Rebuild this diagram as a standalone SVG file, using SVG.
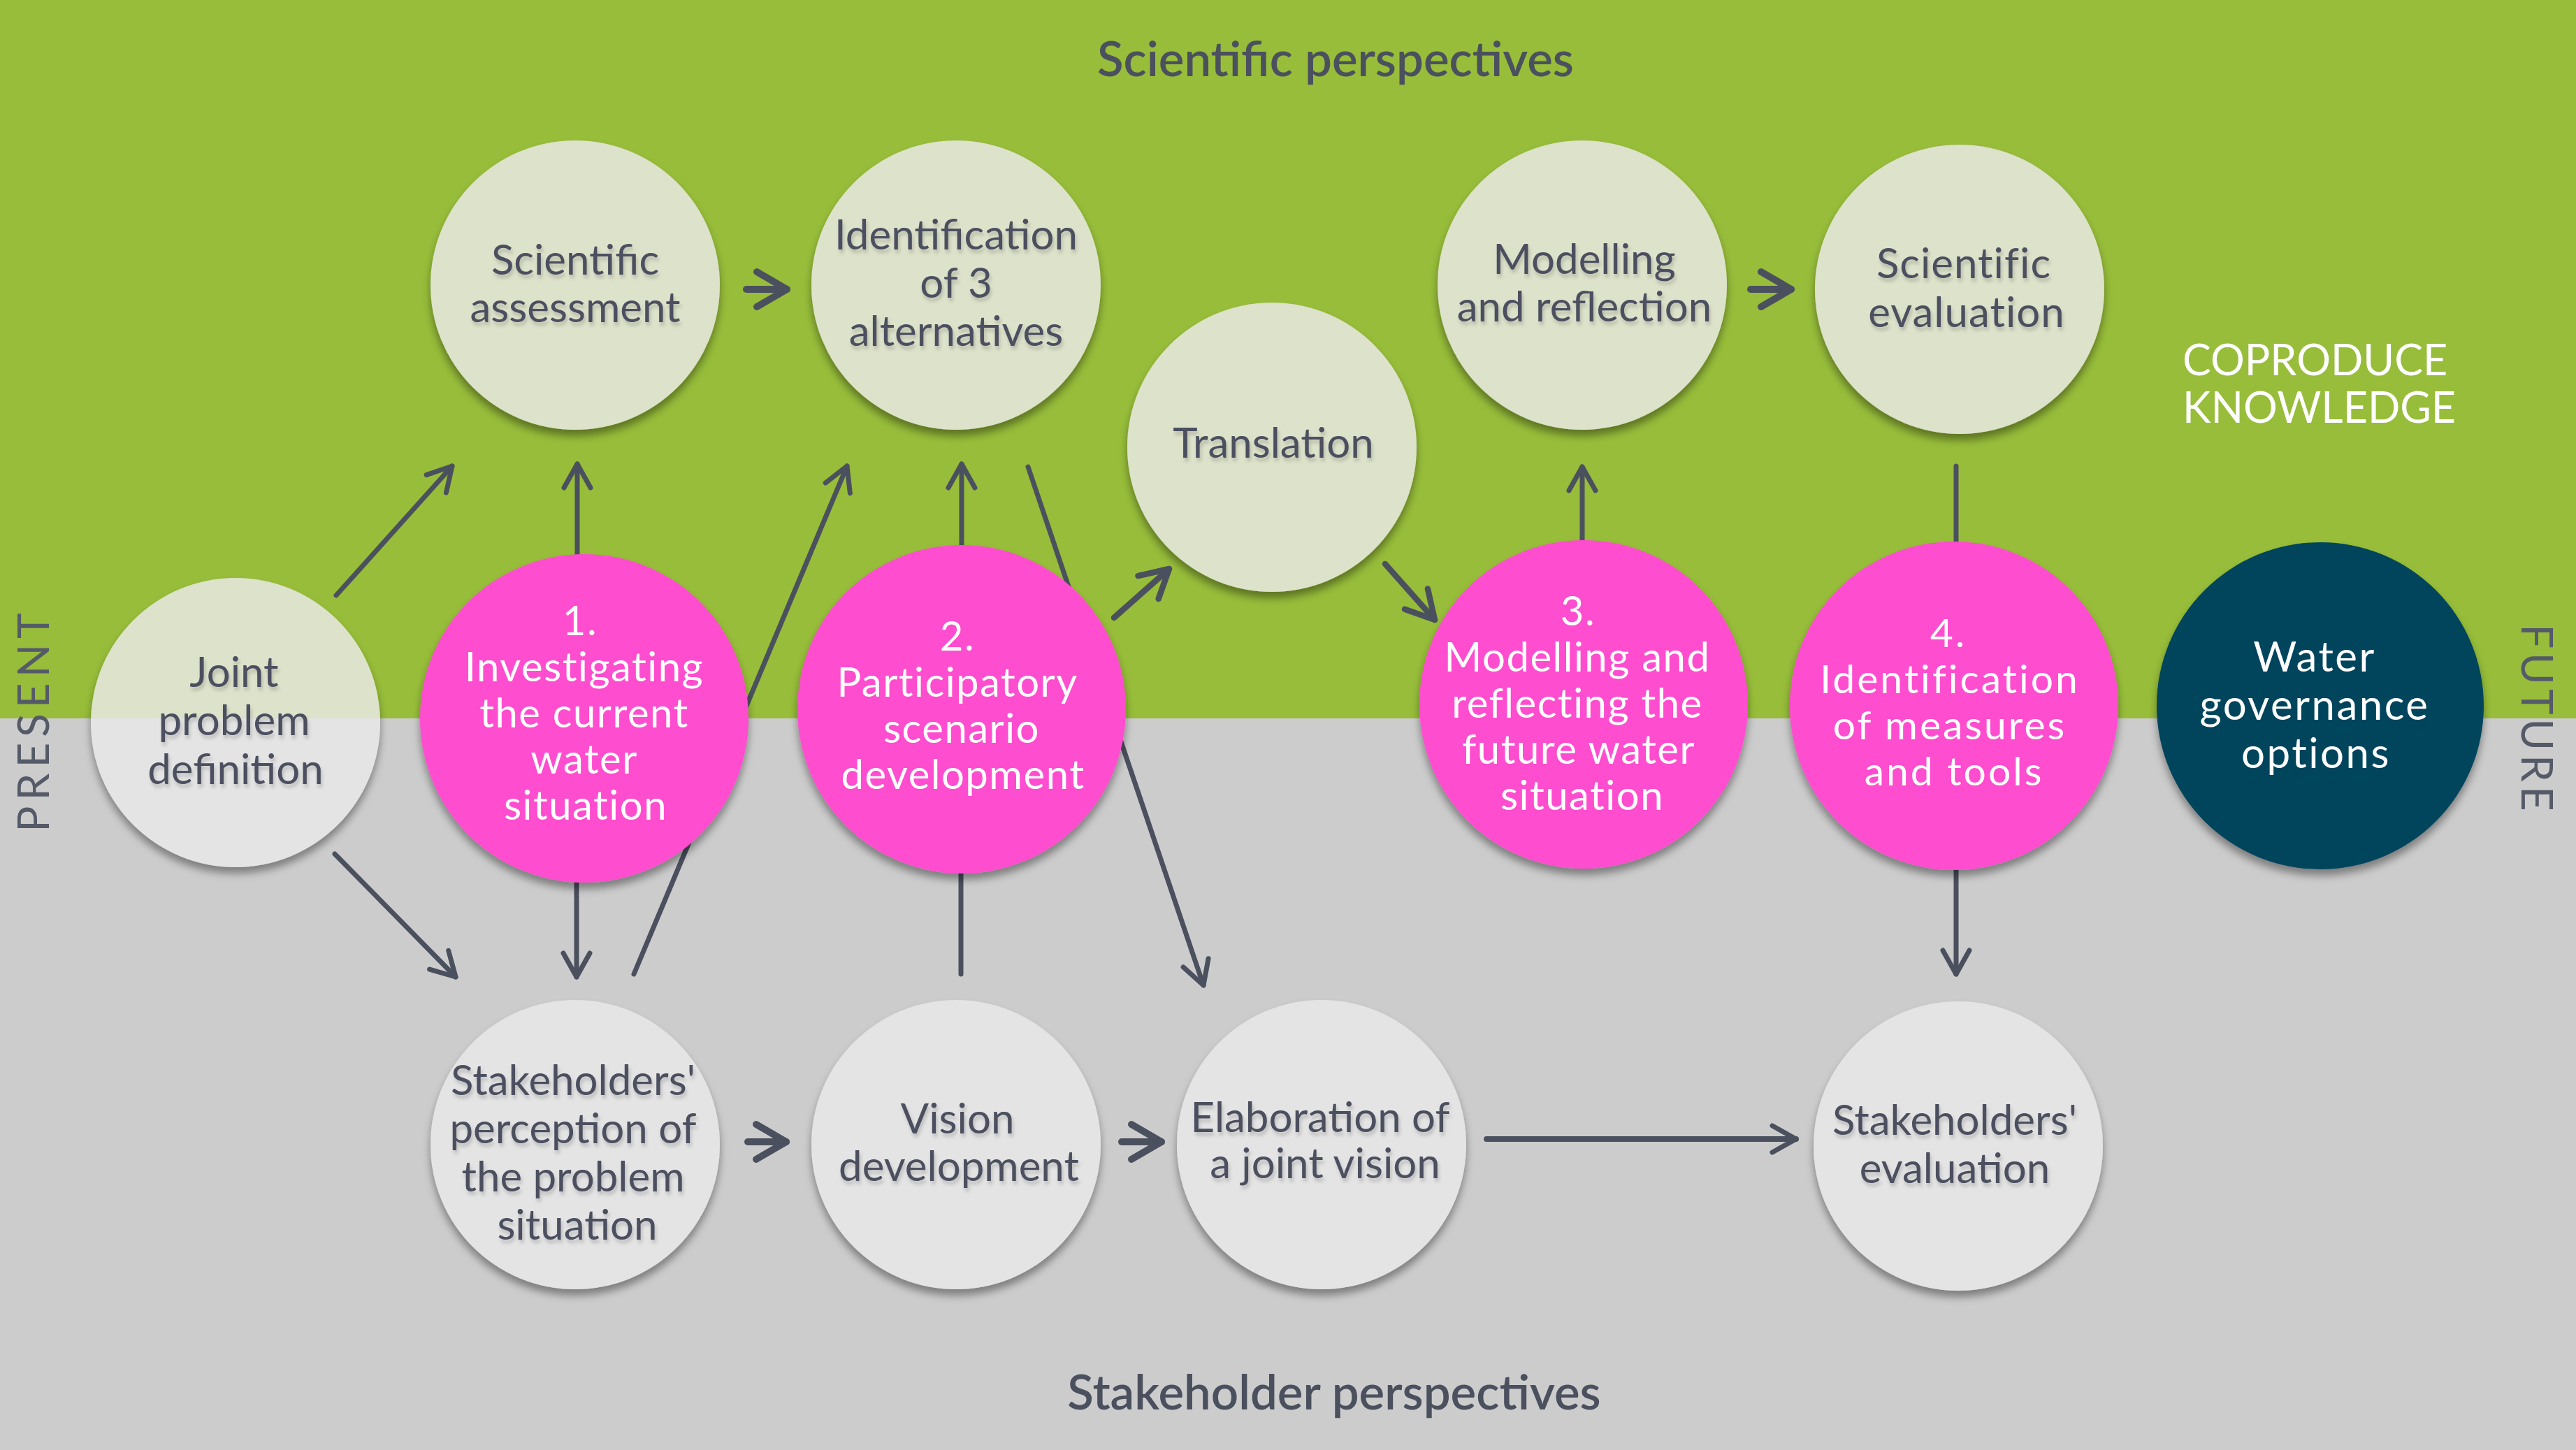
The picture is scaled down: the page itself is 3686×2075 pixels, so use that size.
<svg xmlns="http://www.w3.org/2000/svg" width="3686" height="2075" viewBox="0 0 3686 2075">
<style>
.t{font-family:Lato,"Open Sans","Liberation Sans",sans-serif;text-anchor:middle}
.dk{fill:#4b505e;font-size:60px}
.wh{fill:#ffffff;font-size:58px;letter-spacing:1.5px}
.ttl{fill:#4b505e;font-size:69px;font-weight:600}
.side{fill:#555a68;font-size:62px}
.ln{fill:none;stroke:#4b505e;stroke-linecap:round;stroke-linejoin:round}
.sci{fill:#dde2cb}
.stk{fill:#e4e4e4}
.pk{fill:#fe4ecf}
</style>
<defs>
<filter id="sh" x="-20%" y="-20%" width="140%" height="150%">
<feDropShadow dx="0" dy="9" stdDeviation="6" flood-color="#000" flood-opacity="0.38"/>
</filter>
<filter id="ts" x="-10%" y="-30%" width="120%" height="180%">
<feDropShadow dx="2" dy="5" stdDeviation="2.5" flood-color="#000" flood-opacity="0.18"/>
</filter>
<linearGradient id="jg" gradientUnits="userSpaceOnUse" x1="0" y1="827" x2="0" y2="1241">
<stop offset="0.486" stop-color="#dde2cb"/>
<stop offset="0.486" stop-color="#e4e4e4"/>
</linearGradient>
<marker id="a7" markerUnits="userSpaceOnUse" markerWidth="80" markerHeight="80" refX="0" refY="0" orient="auto" overflow="visible">
<path d="M-34,-19 L0,0 L-34,19" fill="none" stroke="#4b505e" stroke-width="7" stroke-linecap="round" stroke-linejoin="round"/>
</marker>
<marker id="a8" markerUnits="userSpaceOnUse" markerWidth="80" markerHeight="80" refX="0" refY="0" orient="auto" overflow="visible">
<path d="M-40,-22 L0,0 L-40,22" fill="none" stroke="#4b505e" stroke-width="8.5" stroke-linecap="round" stroke-linejoin="round"/>
</marker>
<marker id="a10" markerUnits="userSpaceOnUse" markerWidth="80" markerHeight="80" refX="0" refY="0" orient="auto" overflow="visible">
<path d="M-43,-25 L0,0 L-43,25" fill="none" stroke="#4b505e" stroke-width="10" stroke-linecap="round" stroke-linejoin="round"/>
</marker>
</defs>

<g id="background">
<rect x="0" y="0" width="3686" height="1028" fill="#97bd3a"/>
<rect x="0" y="1028" width="3686" height="1047" fill="#cccccc"/>
</g>

<g id="labels">
<text class="t ttl" x="1911" y="109">Scientific perspectives</text>
<text class="t ttl" x="1909" y="2017">Stakeholder perspectives</text>
<text class="t side" transform="translate(70,1030) rotate(-90)" letter-spacing="8">PRESENT</text>
<text class="t side" transform="translate(3608,1030) rotate(90)" letter-spacing="6">FUTURE</text>
<text font-family="Lato,'Open Sans','Liberation Sans',sans-serif" font-size="61" fill="#ffffff" x="3123" y="537">COPRODUCE</text>
<text font-family="Lato,'Open Sans','Liberation Sans',sans-serif" font-size="61" fill="#ffffff" x="3123" y="605">KNOWLEDGE</text>
</g>

<g id="connectors">
<line class="ln" stroke-width="7" x1="481" y1="852" x2="647" y2="667" marker-end="url(#a7)"/>
<line class="ln" stroke-width="7" x1="479" y1="1222" x2="652" y2="1398" marker-end="url(#a7)"/>
<line class="ln" stroke-width="7" x1="826" y1="800" x2="826" y2="664" marker-end="url(#a7)"/>
<line class="ln" stroke-width="7" x1="825" y1="1255" x2="825" y2="1398" marker-end="url(#a7)"/>
<line class="ln" stroke-width="7" x1="907" y1="1394" x2="1212" y2="667" marker-end="url(#a7)"/>
<line class="ln" stroke-width="7" x1="1376" y1="790" x2="1376" y2="664" marker-end="url(#a7)"/>
<line class="ln" stroke-width="7" x1="1375" y1="1240" x2="1375" y2="1394"/>
<line class="ln" stroke-width="7" x1="1471" y1="668" x2="1722" y2="1410" marker-end="url(#a7)"/>
<line class="ln" stroke-width="8.5" x1="1594" y1="884" x2="1673" y2="814" marker-end="url(#a8)"/>
<line class="ln" stroke-width="8.5" x1="1982" y1="807" x2="2053" y2="887" marker-end="url(#a8)"/>
<line class="ln" stroke-width="7" x1="2264" y1="780" x2="2264" y2="668" marker-end="url(#a7)"/>
<line class="ln" stroke-width="10" x1="1068" y1="414" x2="1126" y2="414" marker-end="url(#a10)"/>
<line class="ln" stroke-width="10" x1="2505" y1="414" x2="2563" y2="414" marker-end="url(#a10)"/>
<line class="ln" stroke-width="10" x1="1070" y1="1634" x2="1125" y2="1634" marker-end="url(#a10)"/>
<line class="ln" stroke-width="10" x1="1605" y1="1634" x2="1662" y2="1634" marker-end="url(#a10)"/>
<line class="ln" stroke-width="8" x1="2127" y1="1630" x2="2570" y2="1630" marker-end="url(#a7)"/>
<line class="ln" stroke-width="7" x1="2799" y1="667" x2="2799" y2="785"/>
<line class="ln" stroke-width="7" x1="2799" y1="1238" x2="2799" y2="1394" marker-end="url(#a7)"/>
</g>

<g id="node-scientific-assessment">
<circle class="sci" cx="823" cy="408" r="207" filter="url(#sh)"/>
<g class="t dk" filter="url(#ts)"><text x="823" y="393">Scientific</text><text x="823" y="461">assessment</text></g>
</g>
<g id="node-identification-alternatives">
<circle class="sci" cx="1368" cy="408" r="207" filter="url(#sh)"/>
<g class="t dk" filter="url(#ts)"><text x="1368" y="357">Identification</text><text x="1368" y="426">of 3</text><text x="1368" y="495">alternatives</text></g>
</g>
<g id="node-translation">
<circle class="sci" cx="1820" cy="640" r="207" filter="url(#sh)"/>
<g class="t dk" filter="url(#ts)"><text x="1822" y="655">Translation</text></g>
</g>
<g id="node-modelling-reflection">
<circle class="sci" cx="2264" cy="408" r="207" filter="url(#sh)"/>
<g class="t dk" filter="url(#ts)"><text x="2267" y="392">Modelling</text><text x="2267" y="460">and reflection</text></g>
</g>
<g id="node-scientific-evaluation">
<circle class="sci" cx="2804" cy="414" r="207" filter="url(#sh)"/>
<g class="t dk" filter="url(#ts)" font-size="57" letter-spacing="1"><text x="2810" y="398">Scientific</text><text x="2814" y="468">evaluation</text></g>
</g>
<g id="node-joint-problem">
<circle cx="337" cy="1034" r="207" fill="url(#jg)" filter="url(#sh)"/>
<g class="t dk" filter="url(#ts)"><text x="335" y="983">Joint</text><text x="335" y="1052">problem</text><text x="337" y="1122">definition</text></g>
</g>
<g id="node-step1">
<circle class="pk" cx="836" cy="1028" r="235" filter="url(#sh)"/>
<g class="t wh"><text x="830" y="909">1.</text><text x="836" y="975">Investigating</text><text x="836" y="1041">the current</text><text x="836" y="1107">water</text><text x="838" y="1173">situation</text></g>
</g>
<g id="node-step2">
<circle class="pk" cx="1376" cy="1015" r="235" filter="url(#sh)"/>
<g class="t wh"><text x="1370" y="931">2.</text><text x="1370" y="997">Participatory</text><text x="1376" y="1063">scenario</text><text x="1378" y="1129">development</text></g>
</g>
<g id="node-step3">
<circle class="pk" cx="2266" cy="1008" r="235" filter="url(#sh)"/>
<g class="t wh"><text x="2258" y="895">3.</text><text x="2257" y="961">Modelling and</text><text x="2257" y="1027">reflecting the</text><text x="2259" y="1093">future water</text><text x="2264" y="1159">situation</text></g>
</g>
<g id="node-step4">
<circle class="pk" cx="2796" cy="1010" r="235" filter="url(#sh)"/>
<g class="t wh" style="font-size:57px;letter-spacing:3px"><text x="2788" y="926">4.</text><text x="2790" y="992">Identification</text><text x="2790" y="1058">of measures</text><text x="2796" y="1124">and tools</text></g>
</g>
<g id="node-water-governance">
<circle cx="3320" cy="1010" r="234" fill="#00445b" filter="url(#sh)"/>
<g class="t wh" style="font-size:60px;letter-spacing:2.5px"><text x="3312" y="961">Water</text><text x="3312" y="1030">governance</text><text x="3314" y="1099">options</text></g>
</g>
<g id="node-stakeholders-perception">
<circle class="stk" cx="823" cy="1638" r="207" filter="url(#sh)"/>
<g class="t dk" filter="url(#ts)"><text x="820" y="1567">Stakeholders'</text><text x="820" y="1636">perception of</text><text x="820" y="1705">the problem</text><text x="826" y="1774">situation</text></g>
</g>
<g id="node-vision-development">
<circle class="stk" cx="1368" cy="1638" r="207" filter="url(#sh)"/>
<g class="t dk" filter="url(#ts)"><text x="1370" y="1622">Vision</text><text x="1372" y="1690">development</text></g>
</g>
<g id="node-elaboration">
<circle class="stk" cx="1891" cy="1638" r="207" filter="url(#sh)"/>
<g class="t dk" filter="url(#ts)" font-size="57"><text x="1889" y="1620">Elaboration of</text><text x="1896" y="1686">a joint vision</text></g>
</g>
<g id="node-stakeholders-evaluation">
<circle class="stk" cx="2802" cy="1640" r="207" filter="url(#sh)"/>
<g class="t dk" filter="url(#ts)"><text x="2797" y="1624">Stakeholders'</text><text x="2797" y="1693">evaluation</text></g>
</g>
</svg>
